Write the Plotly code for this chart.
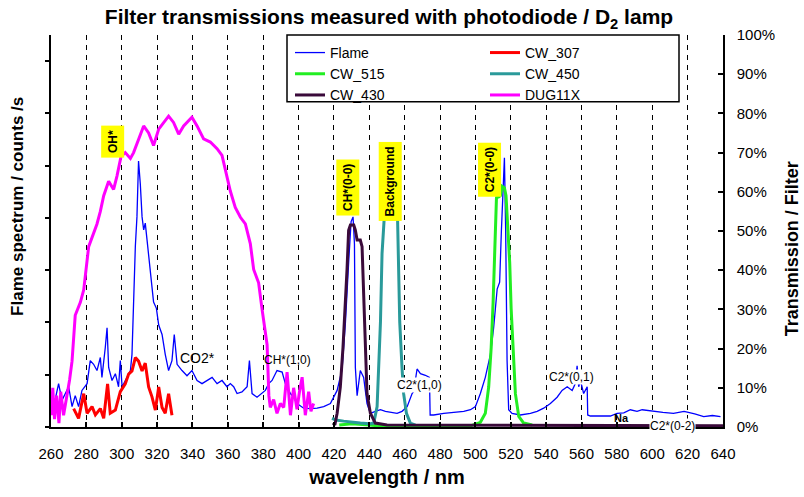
import plotly.graph_objects as go

# ---------------- data ----------------
flame_wl = [261.5, 264.3, 266.2, 268.1, 270.0, 271.9, 273.7, 275.6, 277.5, 280.4, 282.2, 284.1, 286.0, 287.9,
            288.8, 290.7, 291.7, 292.6, 294.5, 296.4, 298.2, 299.2, 300.2, 303.0, 304.9, 305.8, 306.7, 307.7,
            308.6, 309.5, 310.5, 311.5, 312.4, 313.3, 314.3, 315.2, 316.2, 318.0, 319.6, 320.9, 322.8, 324.6,
            326.5, 328.4, 329.7, 331.3, 334.1, 336.9, 339.7, 342.6, 345.4, 348.2, 351.1, 353.9, 356.7, 359.5,
            361.4, 363.3, 365.2, 368.0, 370.9, 372.2, 373.7, 376.5, 379.3, 381.2, 383.1, 385.0, 387.8, 390.7,
            392.5, 395.4, 397.2, 399.1, 402.9, 406.7, 410.5, 414.2, 418.0, 419.8, 421.8, 424.6, 426.5, 428.3,
            429.7, 430.8, 431.6, 432.1, 433.1, 434.9, 436.8, 438.7, 440.6, 443.4, 446.3, 449.1, 451.9, 455.7,
            458.5, 461.4, 464.2, 465.1, 467.0, 468.9, 471.7, 474.0, 474.4, 476.4, 482.1, 487.7, 493.4, 497.2,
            500.0, 502.8, 505.6, 508.5, 510.3, 512.3, 513.7, 514.7, 515.6, 516.4, 517.1, 517.9, 518.8, 520.7,
            525.4, 531.1, 534.9, 538.6, 542.4, 546.2, 549.0, 551.9, 554.7, 556.5, 557.5, 558.4, 559.4, 561.2,
            563.2, 563.5, 565.0, 570.7, 576.3, 580.1, 583.9, 587.6, 591.4, 594.3, 600.0, 606.0, 612.0, 618.0,
            624.0, 629.1, 634.0, 638.6]
flame_val = [0.39, 0.83, 0.51, 0.64, 0.77, 0.39, 0.60, 0.39, 0.70, 0.83, 1.27, 1.20, 1.08, 1.33,
             0.95, 1.52, 1.90, 1.14, 0.89, 1.02, 0.77, 1.27, 0.77, 0.95, 1.08, 1.39, 2.39, 3.46,
             4.02, 5.09, 4.65, 4.02, 3.77, 3.90, 3.58, 3.27, 2.89, 2.39, 2.27, 1.95, 1.77, 1.39,
             1.08, 1.27, 1.77, 1.20, 1.08, 0.98, 1.08, 0.89, 0.83, 0.89, 0.95, 0.83, 0.89, 0.77,
             0.83, 0.77, 0.64, 0.67, 0.77, 1.27, 0.64, 0.57, 0.64, 0.70, 0.83, 0.89, 1.08, 1.05,
             0.83, 0.64, 0.57, 0.45, 0.36, 0.35, 0.36, 0.39, 0.45, 0.57, 0.70, 1.10, 2.00, 3.14,
             3.93, 4.02, 3.50, 1.14, 0.60, 1.08, 0.95, 0.45, 0.26, 0.30, 0.33, 0.30, 0.28, 0.26,
             0.30, 0.39, 0.64, 0.68, 1.11, 1.02, 0.99, 0.95, 0.23, 0.23, 0.26, 0.28, 0.30, 0.33,
             0.39, 0.64, 0.95, 1.39, 1.90, 2.64, 2.77, 3.77, 4.40, 5.15, 3.77, 1.27, 0.33, 0.26,
             0.23, 0.26, 0.30, 0.36, 0.45, 0.57, 0.70, 0.77, 0.70, 0.83, 1.17, 0.77, 0.89, 0.64,
             0.77, 0.23, 0.21, 0.21, 0.21, 0.26, 0.27, 0.33, 0.30, 0.33, 0.30, 0.28, 0.26, 0.30,
             0.25, 0.20, 0.22, 0.20]

cw307_wl = [272.8, 275.6, 278.5, 280.4, 283.2, 285.1, 287.9, 289.8, 292.0, 293.5, 296.4, 299.2, 302.0,
            303.9, 305.8, 307.7, 309.5, 311.5, 313.3, 315.2, 317.1, 319.0, 320.9, 322.8, 324.6, 326.5, 328.4]
cw307_val = [4.7, 2.2, 8.5, 3.5, 5.2, 3.1, 4.7, 2.2, 11.0, 3.5, 4.3, 9.0, 11.0,
             13.5, 14.3, 17.7, 16.8, 14.3, 16.3, 10.2, 7.7, 4.3, 10.2, 5.0, 3.5, 8.5, 3.0]

cw515_wl = [423.0, 430.0, 440.0, 445.0, 470.0, 497.2, 502.8, 505.6, 507.5, 508.9, 510.0, 510.9, 511.9,
            513.2, 514.1, 515.1, 516.4, 517.3, 518.3, 519.4, 520.2, 521.3, 522.6, 524.5, 527.3, 532.1]
cw515_val = [0.5, 0.8, 0.5, 0.3, 0.2, 0.3, 1.2, 3.5, 10.2, 20.2, 31.8, 45.2, 58.5,
             58.7, 59.0, 61.4, 61.0, 59.0, 51.8, 41.8, 30.2, 18.5, 8.5, 2.7, 1.0, 0.5]

cw450_wl = [418.9, 421.0, 425.5, 430.0, 434.9, 440.0, 442.5, 444.4, 445.3, 446.3, 447.2, 448.1, 448.8,
            450.0, 452.0, 454.0, 455.5, 456.0, 457.2, 458.5, 459.4, 461.0, 463.2, 466.1]
cw450_val = [2.2, 1.8, 1.5, 1.2, 1.0, 0.8, 1.0, 5.2, 15.0, 26.8, 44.3, 52.7, 56.0,
             57.0, 57.5, 57.0, 56.0, 52.7, 26.8, 15.0, 8.5, 3.5, 1.0, 0.5]

cw430_wl = [419.5, 420.5, 421.8, 423.6, 425.1, 426.5, 427.4, 428.3, 429.3, 431.2, 432.1, 433.1, 434.9,
            435.9, 436.8, 437.8, 438.7, 440.6, 443.4, 450.0, 500.0, 560.0, 640.0]
cw430_val = [1.0, 0.5, 3.5, 10.2, 20.2, 31.0, 40.2, 50.2, 51.5, 51.5, 50.2, 47.7, 47.7,
             46.0, 33.5, 18.5, 8.5, 3.5, 1.0, 0.5, 0.4, 0.3, 0.3]

dug11x_wl = [260.2, 261.0, 262.0, 263.2, 264.5, 265.5, 267.1, 269.0, 270.5, 271.9, 273.7, 276.6, 278.5,
             281.3, 283.2, 286.0, 287.9, 289.8, 292.6, 295.4, 297.3, 299.6, 302.0, 304.9, 306.7, 309.5,
             312.4, 315.2, 318.0, 320.9, 323.7, 326.5, 329.3, 332.2, 335.0, 337.8, 339.7, 342.6, 346.3,
             350.1, 353.9, 356.7, 359.5, 361.4, 364.2, 367.1, 369.9, 372.7, 374.6, 377.4, 379.3, 381.2,
             382.2, 383.2, 384.0, 385.9, 387.8, 389.7, 391.6, 393.5, 395.4, 397.2, 399.1, 400.5, 402.0,
             403.8, 405.7, 407.0, 408.5]
dug11x_val = [3, 10, 2, 8, 1, 9, 3, 7.6, 12, 16.8, 28.5, 31.8, 35,
              46, 48.5, 51.8, 55, 59, 62.7, 60.6, 64, 69, 70, 68.5, 70, 73.5,
              76.8, 75, 71.8, 76, 77.7, 79.3, 77.7, 74.7, 76.8, 78, 79, 76.8, 73.5,
              72.7, 71, 69.3, 64.3, 60.2, 56, 53.5, 51.8, 46.8, 40.2, 36.8, 30.2, 23.5,
              21, 8, 5, 7, 3.5, 6, 5, 14, 3, 10, 4.5, 9, 12.7,
              3, 9, 4, 6]

x_ticks = list(range(260, 641, 20))

# label annotations: (text, wavelength, transmission %)
band_labels = [("OH*", 295.0, 72.9), ("CH*(0-0)", 427.9, 61.2), ("Background", 451.6, 62.6), ("C2*(0-0)", 507.9, 65.6)]
plain_labels = [("CO2*", 343.0, 17.7, 14), ("CH*(1,0)", 394.0, 17.2, 12)]
masked_labels = [("C2*(1,0)", 468.4, 10.8), ("C2*(0,1)", 554.2, 12.7), ("C2*(0-2)", 611.7, 0.3)]
na_label = ("Na", 582.5, 2.3)

FONT = "Liberation Sans, Arial"

fig = go.Figure()
fig.add_trace(go.Scatter(x=flame_wl, y=flame_val, name="Flame", mode="lines",
                         line=dict(color="#0000FF", width=1.3), legend="legend"))
fig.add_trace(go.Scatter(x=cw307_wl, y=cw307_val, name="CW_307", mode="lines", yaxis="y2",
                         line=dict(color="#FF0000", width=3), legend="legend2"))
fig.add_trace(go.Scatter(x=cw515_wl, y=cw515_val, name="CW_515", mode="lines", yaxis="y2",
                         line=dict(color="#22EE22", width=3), legend="legend"))
fig.add_trace(go.Scatter(x=cw450_wl, y=cw450_val, name="CW_450", mode="lines", yaxis="y2",
                         line=dict(color="#2A9A9A", width=3), legend="legend2"))
fig.add_trace(go.Scatter(x=cw430_wl, y=cw430_val, name="CW_430", mode="lines", yaxis="y2",
                         line=dict(color="#3A0A3A", width=3), legend="legend"))
fig.add_trace(go.Scatter(x=dug11x_wl, y=dug11x_val, name="DUG11X", mode="lines", yaxis="y2",
                         line=dict(color="#FF00FF", width=3), legend="legend2"))

annotations = []
for t, xv, yv in band_labels:
    annotations.append(dict(text="<b>%s</b>" % t, x=xv, y=yv, xref="x", yref="y2", showarrow=False,
                            textangle=-90, bgcolor="#FFFF00", borderpad=4,
                            xanchor="center", yanchor="middle",
                            font=dict(family=FONT, size=12, color="black")))
for t, xv, yv, s in plain_labels:
    annotations.append(dict(text=t, x=xv, y=yv, xref="x", yref="y2", showarrow=False,
                            xanchor="center", yanchor="middle",
                            font=dict(family=FONT, size=s, color="black")))
for t, xv, yv in masked_labels:
    annotations.append(dict(text=t, x=xv, y=yv, xref="x", yref="y2", showarrow=False,
                            bgcolor="white", borderpad=0, xanchor="center", yanchor="middle",
                            font=dict(family=FONT, size=12, color="black")))
annotations.append(dict(text="<b>%s</b>" % na_label[0], x=na_label[1], y=na_label[2], xref="x", yref="y2",
                        showarrow=False, xanchor="center", yanchor="middle",
                        font=dict(family=FONT, size=11, color="black")))
# axis titles (positions in pixels, converted below)
annotations.append(dict(text="<b>Flame spectrum / counts /s</b>", x=18, y=210, xref="paper", yref="paper",
                        showarrow=False, textangle=-90, xanchor="center", yanchor="middle",
                        font=dict(family=FONT, size=17, color="black")))
annotations.append(dict(text="<b>Transmission / Filter</b>", x=792, y=253, xref="paper", yref="paper",
                        showarrow=False, textangle=-90, xanchor="center", yanchor="middle",
                        font=dict(family=FONT, size=18, color="black")))

L, R, T, B = 51, 81, 35, 63
W, H = 804, 497
pw, ph = W - L - R, H - T - B

def px(xp):
    return (xp - L) / pw

def py(yp):
    return (H - B - yp) / ph

for a in annotations:
    if a["xref"] == "paper":
        a["x"] = px(a["x"])
        a["y"] = py(a["y"])

fig.update_layout(
    width=W, height=H, margin=dict(l=L, r=R, t=T, b=B),
    paper_bgcolor="white", plot_bgcolor="white",
    font=dict(family=FONT, color="black"),
    title=dict(text="<b>Filter transmissions measured with photodiode / D<sub>2</sub> lamp</b>",
               xref="container", x=389 / W, xanchor="center", yref="container", y=1 - 17 / H,
               yanchor="middle", font=dict(family=FONT, size=21, color="black")),
    xaxis=dict(range=[260, 640], tickvals=x_ticks, ticks="inside", ticklen=5, tickwidth=1.5,
               tickcolor="black", showline=True, linecolor="black", linewidth=1.5,
               showgrid=True, gridcolor="black", gridwidth=1.2, griddash="5px,5px",
               zeroline=False, tickfont=dict(size=15), ticklabelstandoff=12,
               title=dict(text="<b>wavelength / nm</b>", font=dict(size=20), standoff=9)),
    yaxis=dict(range=[0, 7.5], dtick=1, ticks="outside", ticklen=4, tickwidth=1.5, tickcolor="black",
               showticklabels=False, showline=True, linecolor="black", linewidth=1.5,
               showgrid=False, zeroline=False),
    yaxis2=dict(range=[0, 100], dtick=10, ticksuffix="%", overlaying="y", side="right",
                ticks="inside", ticklen=5, tickwidth=1.5, tickcolor="black",
                showline=True, linecolor="black", linewidth=1.5, showgrid=False, zeroline=False,
                tickfont=dict(size=15), ticklabelstandoff=9),
    legend=dict(x=px(290), y=py(37), xanchor="left", yanchor="top", bgcolor="rgba(0,0,0,0)",
                borderwidth=0, font=dict(size=14), tracegroupgap=0),
    legend2=dict(x=px(485), y=py(37), xanchor="left", yanchor="top", bgcolor="rgba(0,0,0,0)",
                 borderwidth=0, font=dict(size=14), tracegroupgap=0),
    annotations=annotations,
    shapes=[dict(type="rect", xref="paper", yref="paper", x0=px(287), x1=px(679), y0=py(103), y1=py(35),
                 fillcolor="white", line=dict(color="black", width=1.5), layer="above")],
    showlegend=True,
)

fig.write_html("out.html")
